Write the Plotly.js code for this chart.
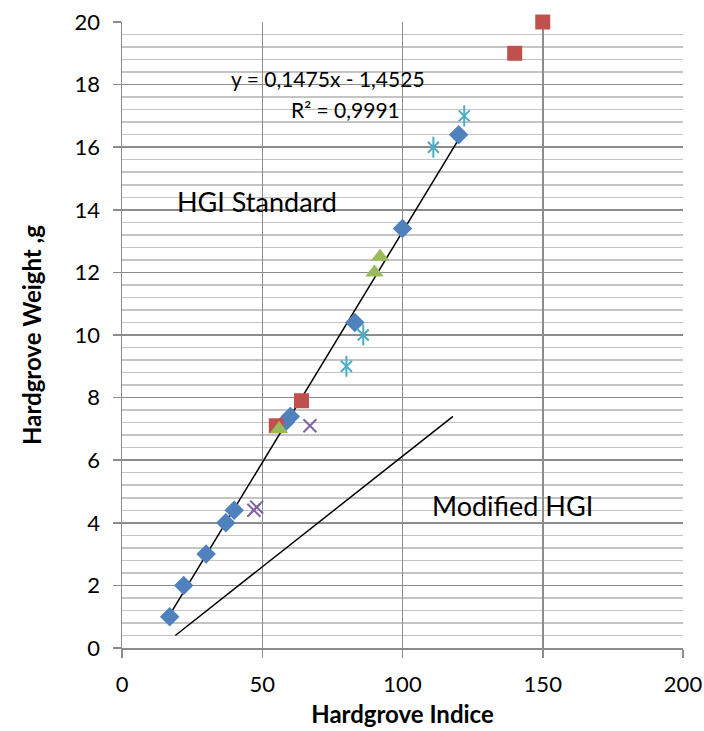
<!DOCTYPE html>
<html>
<head>
<meta charset="utf-8">
<script src="https://cdn.plot.ly/plotly-3.0.1.min.js"></script>
<style>html,body{margin:0;padding:0;background:#fff;}#chart{width:704px;height:731px;}</style>
</head>
<body>
<div id="chart"></div>
<script>
// Data
const diamondX = [17, 22, 30, 37, 40, 58, 60, 83, 100, 120];
const diamondY = [1, 2, 3, 4, 4.4, 7.2, 7.4, 10.4, 13.4, 16.4];
const squareX = [55, 64, 140, 150];
const squareY = [7.1, 7.9, 19, 20];
const triangleX = [56, 90, 92];
const triangleY = [7.0, 12, 12.5];
const starX = [80, 86, 111, 122];
const starY = [9, 10, 16, 17];
const crossX = [47, 48, 67];
const crossY = [4.4, 4.5, 7.1];
const trendCoef = [0.1475, -1.4525];   // slope, intercept
const trendRange = [17, 120];
const modifiedX = [19, 118];
const modifiedY = [0.4, 7.4];
const xTicks = [0, 50, 100, 150, 200];
const yTicks = [0, 2, 4, 6, 8, 10, 12, 14, 16, 18, 20];

const font = "Lato, 'Open Sans', sans-serif";
const trendY = trendRange.map(x => trendCoef[0] * x + trendCoef[1]);

const traces = [
  {x: trendRange, y: trendY, mode: 'lines', line: {color: '#000', width: 1.5}, hoverinfo: 'skip', cliponaxis: false},
  {x: modifiedX, y: modifiedY, mode: 'lines', line: {color: '#000', width: 1.5}, hoverinfo: 'skip', cliponaxis: false},
  {x: diamondX, y: diamondY, mode: 'markers', cliponaxis: false, marker: {symbol: 'diamond', size: 15, color: '#4F81BD'}},
  {x: squareX, y: squareY, mode: 'markers', cliponaxis: false, marker: {symbol: 'square', size: 15, color: '#C0504D'}},
  {x: triangleX, y: triangleY, mode: 'markers', cliponaxis: false, marker: {symbol: 'triangle-up', size: 16, color: '#9BBB59'}},
  {x: starX, y: starY, mode: 'markers', cliponaxis: false, marker: {symbol: 'x-thin-open', size: 11, color: '#4BACC6', line: {color: '#4BACC6', width: 2}}},
  {x: starX, y: starY, mode: 'markers', cliponaxis: false, marker: {symbol: 'line-ns-open', size: 15, color: '#4BACC6', line: {color: '#4BACC6', width: 2}}},
  {x: crossX, y: crossY, mode: 'markers', cliponaxis: false, marker: {symbol: 'x-thin-open', size: 13, color: '#8064A2', line: {color: '#8064A2', width: 2}}}
];

const layout = {
  width: 704, height: 731,
  margin: {l: 122, r: 21, t: 22, b: 83},
  showlegend: false,
  paper_bgcolor: '#fff', plot_bgcolor: '#fff',
  font: {family: font, color: '#000', size: 22},
  xaxis: {
    range: [0, 200], tickvals: xTicks, ticktext: xTicks.map(String),
    showgrid: true, gridcolor: '#8C8C8C', gridwidth: 1.5,
    showline: true, linecolor: '#8C8C8C', linewidth: 1.5,
    ticks: 'outside', ticklen: 8, tickcolor: '#8C8C8C', tickwidth: 1.5,
    ticklabelstandoff: 8,
    zeroline: false, tickfont: {size: 22, family: font},
    title: {text: '<b>Hardgrove Indice</b>', font: {size: 24, family: font}, standoff: 10}
  },
  yaxis: {
    range: [0, 20], tickvals: yTicks, ticktext: yTicks.map(String),
    showgrid: true, gridcolor: '#8C8C8C', gridwidth: 1.5,
    showline: true, linecolor: '#8C8C8C', linewidth: 1.5,
    ticks: 'outside', ticklen: 8, tickcolor: '#8C8C8C', tickwidth: 1.5,
    ticklabelstandoff: 8,
    zeroline: false, tickfont: {size: 22, family: font},
    minor: {dtick: 0.4, showgrid: true, gridcolor: '#C4C4C4', gridwidth: 1.5},
    title: {text: '<b>Hardgrove Weight ,g</b>', font: {size: 24, family: font}, standoff: 26}
  },
  annotations: [
    {x: 0.368, y: 0.9105, xref: 'paper', yref: 'paper', text: 'y = 0,1475x - 1,4525', showarrow: false, xanchor: 'center', yanchor: 'middle', font: {size: 21, family: font}},
    {x: 0.499, y: 0.861, xref: 'paper', yref: 'paper', text: 'R² = 0,9991', showarrow: false, xanchor: 'right', yanchor: 'middle', font: {size: 21, family: font}},
    {x: 0.2398, y: 0.7125, xref: 'paper', yref: 'paper', text: 'HGI Standard', showarrow: false, xanchor: 'center', yanchor: 'middle', font: {size: 27, family: font}},
    {x: 0.696, y: 0.2284, xref: 'paper', yref: 'paper', text: 'Modified HGI', showarrow: false, xanchor: 'center', yanchor: 'middle', font: {size: 27, family: font}}
  ]
};

Plotly.newPlot('chart', traces, layout, {staticPlot: true, displayModeBar: false});
</script>
</body>
</html>
